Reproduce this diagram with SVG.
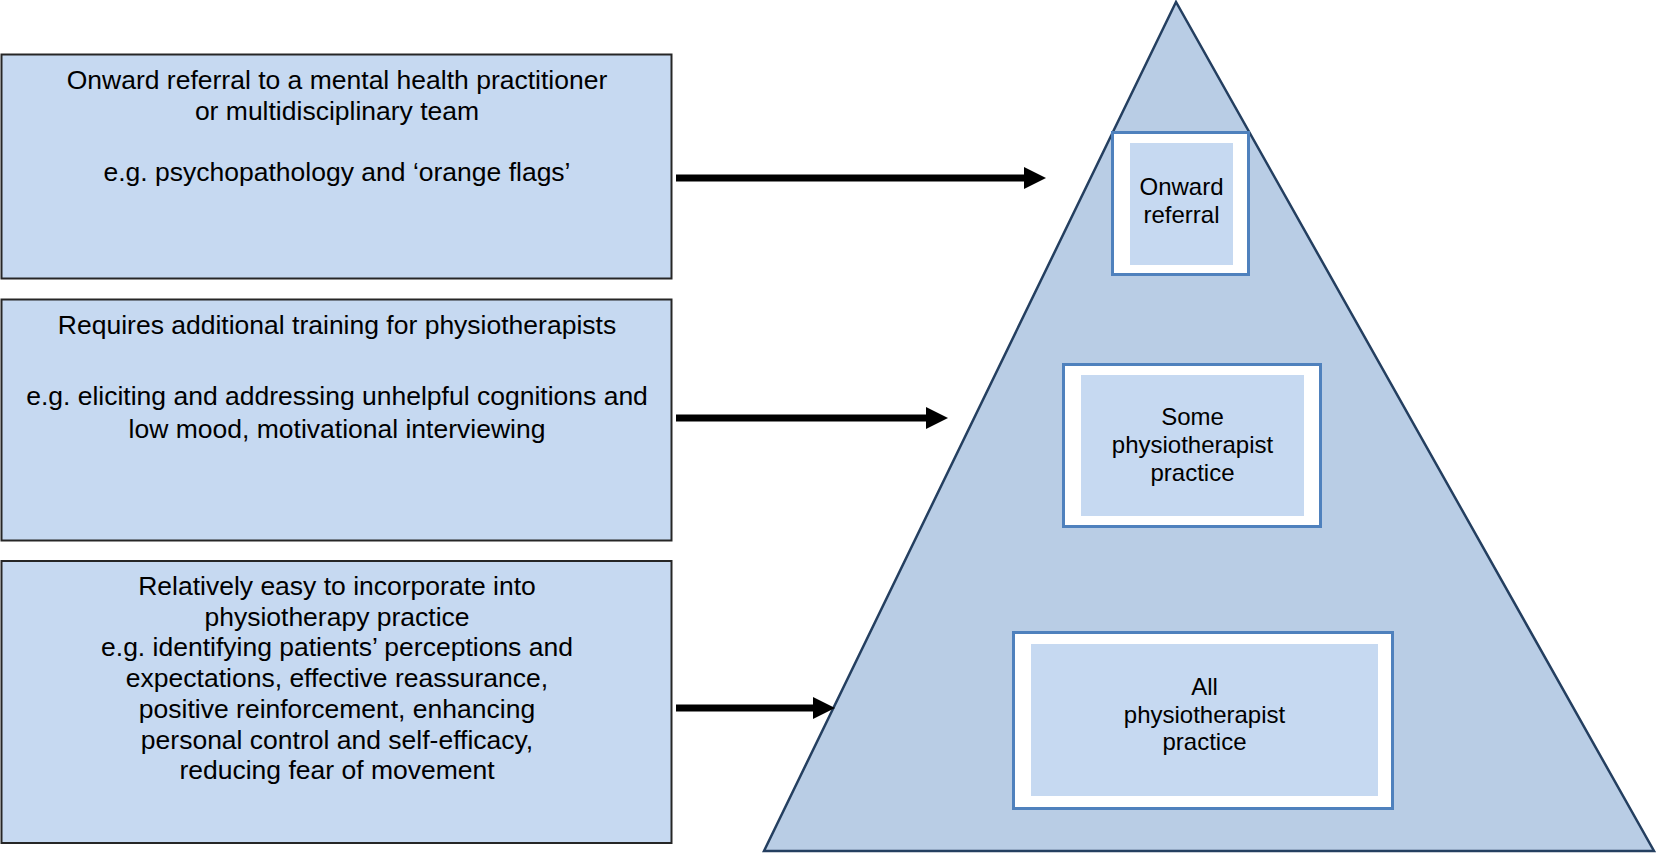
<svg xmlns="http://www.w3.org/2000/svg" width="1656" height="855" viewBox="0 0 1656 855">
  <style>
    .box { fill: #c6d9f1; stroke: #262626; stroke-width: 2; }
    .frame { fill: #ffffff; stroke: #4f81bd; stroke-width: 3; }
    .fill { fill: #c6d9f1; }
    .pyr { fill: #b9cde5; stroke: #243f60; stroke-width: 2.5; stroke-linejoin: miter; }
    .lt { font-family: "Liberation Sans", Arial, sans-serif; font-size: 26.5px; fill: #000; text-anchor: middle; }
    .it { font-family: "Liberation Sans", Arial, sans-serif; font-size: 24px; fill: #000; text-anchor: middle; }
    .arrow { stroke: #000; stroke-width: 7; fill: none; }
  </style>
  <defs>
    <!-- arrowhead sits just beyond the line end, so the shaft never pokes past the tip -->
    <marker id="head" markerUnits="userSpaceOnUse" markerWidth="24" markerHeight="24" refX="0" refY="11" orient="auto">
      <path d="M0,0 L22,11 L0,22 Z" fill="#000"/>
    </marker>
  </defs>

  <!-- pyramid -->
  <g id="pyramid">
    <polygon class="pyr" points="1176,2 764,851 1654,851"/>
  </g>

  <!-- left description boxes -->
  <g id="box-referral">
    <rect class="box" x="1.5" y="54.5" width="670" height="224"/>
    <text class="lt" x="337" y="89">Onward referral to a mental health practitioner</text>
    <text class="lt" x="337" y="120">or multidisciplinary team</text>
    <text class="lt" x="337" y="181">e.g. psychopathology and ‘orange flags’</text>
  </g>

  <g id="box-training">
    <rect class="box" x="1.5" y="299.5" width="670" height="241"/>
    <text class="lt" x="337" y="334">Requires additional training for physiotherapists</text>
    <text class="lt" x="337" y="405">e.g. eliciting and addressing unhelpful cognitions and</text>
    <text class="lt" x="337" y="438">low mood, motivational interviewing</text>
  </g>

  <g id="box-easy">
    <rect class="box" x="1.5" y="561" width="670" height="282"/>
    <text class="lt" x="337" y="595">Relatively easy to incorporate into</text>
    <text class="lt" x="337" y="625.7">physiotherapy practice</text>
    <text class="lt" x="337" y="656.4">e.g. identifying patients’ perceptions and</text>
    <text class="lt" x="337" y="687.1">expectations, effective reassurance,</text>
    <text class="lt" x="337" y="717.8">positive reinforcement, enhancing</text>
    <text class="lt" x="337" y="748.5">personal control and self-efficacy,</text>
    <text class="lt" x="337" y="779.2">reducing fear of movement</text>
  </g>

  <!-- pyramid tiers -->
  <g id="tier-top">
    <rect class="frame" x="1112.5" y="132.5" width="136" height="142"/>
    <rect class="fill" x="1130" y="143" width="103" height="122"/>
    <text class="it" x="1181.5" y="195">Onward</text>
    <text class="it" x="1181.5" y="222.5">referral</text>
  </g>

  <g id="tier-middle">
    <rect class="frame" x="1063.5" y="364.5" width="257" height="162"/>
    <rect class="fill" x="1081" y="375" width="223" height="141"/>
    <text class="it" x="1192.5" y="425">Some</text>
    <text class="it" x="1192.5" y="452.5">physiotherapist</text>
    <text class="it" x="1192.5" y="481">practice</text>
  </g>

  <g id="tier-base">
    <rect class="frame" x="1013.5" y="632.5" width="379" height="176"/>
    <rect class="fill" x="1031" y="644" width="347" height="152"/>
    <text class="it" x="1204.5" y="695">All</text>
    <text class="it" x="1204.5" y="722.5">physiotherapist</text>
    <text class="it" x="1204.5" y="750">practice</text>
  </g>

  <!-- connectors -->
  <g id="connectors">
    <line class="arrow" x1="676" y1="178" x2="1024" y2="178" marker-end="url(#head)"/>
    <line class="arrow" x1="676" y1="418" x2="926" y2="418" marker-end="url(#head)"/>
    <line class="arrow" x1="676" y1="708" x2="813" y2="708" marker-end="url(#head)"/>
  </g>
</svg>
